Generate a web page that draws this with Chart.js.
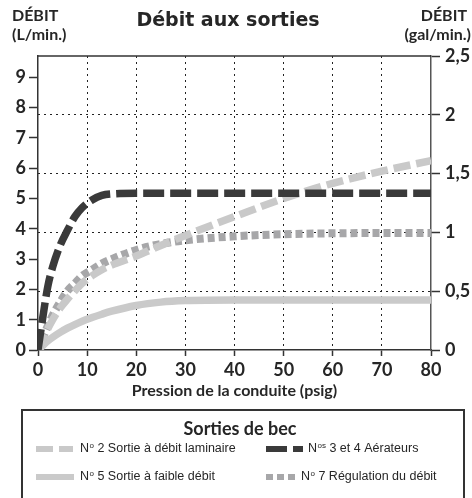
<!DOCTYPE html>
<html>
<head>
<meta charset="utf-8">
<script src="https://cdn.jsdelivr.net/npm/chart.js@4/dist/chart.umd.min.js"></script>
<style>
  html, body { margin: 0; padding: 0; background: #fff; }
  #wrap { width: 472px; height: 498px; position: relative; }
</style>
</head>
<body>
<div id="wrap"><canvas id="debitChart" width="472" height="498"></canvas></div>
<script>
// pression (psig) and flow values in L/min
const pressure = [0, 1, 2, 3, 4.5, 6, 7.5, 9, 11, 13, 15, 20, 25, 30, 40, 50, 60, 70, 80];
const aerateurs = [0, 1.1, 2.1, 2.75, 3.45, 3.95, 4.4, 4.7, 4.95, 5.1, 5.15, 5.17, 5.17, 5.17, 5.17, 5.17, 5.17, 5.17, 5.17];
const laminaire = [0, 0.35, 0.7, 1.0, 1.38, 1.68, 1.95, 2.2, 2.45, 2.65, 2.8, 3.1, 3.45, 3.78, 4.4, 5.0, 5.5, 5.9, 6.25];
const regulation = [0, 0.4, 0.8, 1.15, 1.58, 1.95, 2.2, 2.45, 2.65, 2.85, 3.0, 3.3, 3.5, 3.62, 3.75, 3.82, 3.85, 3.86, 3.86];
const faible = [0, 0.15, 0.3, 0.42, 0.58, 0.72, 0.84, 0.95, 1.07, 1.18, 1.28, 1.47, 1.58, 1.63, 1.65, 1.65, 1.65, 1.65, 1.65];

const xTicks = [0, 10, 20, 30, 40, 50, 60, 70, 80];
const litreTicks = [0, 1, 2, 3, 4, 5, 6, 7, 8, 9];
const gallonTicks = [0, 0.5, 1, 1.5, 2, 2.5];

const INK = "#262626";
const numFont = { family: "Lato, 'DejaVu Sans', sans-serif", size: 18, weight: "bold" };

function pts(values) {
  return pressure.map((p, i) => ({ x: p, y: values[i] }));
}

// legend entries: [superscript, rest of the label, dataset index, sample end x]
const legendRows = [
  [["o", " 2 Sortie à débit laminaire", 1, 73], ["os", " 3 et 4 Aérateurs", 0, 303]],
  [["o", " 5 Sortie à faible débit", 3, 74], ["o", " 7 Régulation du débit", 2, 297]]
];

const decorPlugin = {
  id: "decor",
  afterDraw(chart) {
    const ctx = chart.ctx;
    const area = chart.chartArea;
    ctx.save();

    // top frame line
    ctx.strokeStyle = "#333";
    ctx.lineWidth = 1.5;
    ctx.beginPath();
    ctx.moveTo(area.left, area.top);
    ctx.lineTo(area.right, area.top);
    ctx.stroke();

    // title + axis headers
    ctx.fillStyle = INK;
    ctx.textBaseline = "middle";
    ctx.font = "bold 19px 'DejaVu Sans', sans-serif";
    ctx.textAlign = "center";
    ctx.fillText("Débit aux sorties", 228, 21);

    ctx.font = "bold 16px Lato, sans-serif";
    ctx.textAlign = "left";
    ctx.fillText("DÉBIT", 12, 16);
    ctx.fillText("(L/min.)", 12, 35);
    ctx.textAlign = "right";
    ctx.fillText("DÉBIT", 467, 16);
    ctx.fillText("(gal/min.)", 471, 35);

    // legend box
    ctx.strokeStyle = "#333";
    ctx.lineWidth = 2;
    ctx.strokeRect(22, 410, 442, 100);
    ctx.textAlign = "center";
    ctx.font = "bold 18px Lato, sans-serif";
    ctx.fillText("Sorties de bec", 240, 429);

    const rowY = [449, 477];
    const colX = [[36, 80], [266, 308]];
    legendRows.forEach((row, r) => {
      row.forEach((item, c) => {
        const ds = chart.data.datasets[item[2]];
        const [x0, tx0] = colX[c];
        const x1 = item[3];
        const tx = c === 1 && r === 1 ? 301 : tx0;
        const y = rowY[r];
        ctx.save();
        ctx.strokeStyle = ds.borderColor;
        ctx.lineWidth = 6;
        ctx.lineCap = "butt";
        ctx.setLineDash(ds.borderDash || []);
        ctx.beginPath();
        ctx.moveTo(x0, y);
        ctx.lineTo(x1, y);
        ctx.stroke();
        ctx.restore();

        ctx.textAlign = "left";
        ctx.fillStyle = INK;
        ctx.font = "12.5px 'Liberation Sans', Arial, sans-serif";
        ctx.fillText("N", tx, y);
        let x = tx + ctx.measureText("N").width;
        ctx.font = "8px 'Liberation Sans', Arial, sans-serif";
        ctx.fillText(item[0], x + 0.5, y - 3);
        x += ctx.measureText(item[0]).width + 0.5;
        ctx.font = "12.5px 'Liberation Sans', Arial, sans-serif";
        ctx.fillText(item[1], x, y);
      });
    });
    ctx.restore();
  }
};

const lineBase = { pointRadius: 0, borderCapStyle: "butt", cubicInterpolationMode: "monotone", fill: false };

new Chart(document.getElementById("debitChart"), {
  type: "line",
  data: {
    datasets: [
      { ...lineBase, label: "Nos 3 et 4 Aérateurs", data: pts(aerateurs), borderColor: "#3a3a3a", borderWidth: 7.5, borderDash: [21, 6] },
      { ...lineBase, label: "No 2 Sortie à débit laminaire", data: pts(laminaire), borderColor: "#c9c9c9", borderWidth: 7.5, borderDash: [17, 6] },
      { ...lineBase, label: "No 7 Régulation du débit", data: pts(regulation), borderColor: "#a7a7a9", borderWidth: 8, borderDash: [7, 4] },
      { ...lineBase, label: "No 5 Sortie à faible débit", data: pts(faible), borderColor: "#cacaca", borderWidth: 7.5 }
    ]
  },
  options: {
    responsive: false,
    animation: false,
    layout: { padding: { top: 56, bottom: 98, left: 0, right: 0 } },
    plugins: { legend: { display: false }, tooltip: { enabled: false }, title: { display: false } },
    scales: {
      x: {
        type: "linear",
        min: 0,
        max: 80,
        afterBuildTicks: (s) => { s.ticks = xTicks.map((v) => ({ value: v })); },
        afterFit: (s) => { s.height = 50; },
        ticks: { font: numFont, color: INK, padding: 3 },
        grid: {
          color: (c) => (c.tick && (c.tick.value === 0 || c.tick.value === 80) ? "rgba(0,0,0,0)" : "#222"),
          lineWidth: 1,
          tickColor: "#333",
          tickLength: 6,
          tickWidth: 1.5
        },
        border: { display: true, color: "#333", width: 1.5, dash: [2, 4] },
        title: {
          display: true,
          text: "Pression de la conduite (psig)",
          font: { family: "Lato, sans-serif", size: 16, weight: "bold" },
          color: INK,
          padding: { top: 0, bottom: 0 }
        }
      },
      y: {
        position: "left",
        min: 0,
        max: 9.7,
        afterBuildTicks: (s) => { s.ticks = litreTicks.map((v) => ({ value: v })); },
        afterFit: (s) => { s.width = 38; },
        ticks: { font: numFont, color: INK, padding: 3 },
        grid: { drawOnChartArea: false, tickColor: "#333", tickLength: 9, tickWidth: 1.5 },
        border: { display: true, color: "#333", width: 1.5 }
      },
      y2: {
        position: "right",
        min: 0,
        max: 2.5,
        afterBuildTicks: (s) => { s.ticks = gallonTicks.map((v) => ({ value: v })); },
        afterFit: (s) => { s.width = 41; },
        ticks: {
          font: numFont,
          color: INK,
          padding: 5,
          callback: (v) => String(v).replace(".", ",")
        },
        grid: {
          color: (c) => (c.tick && (c.tick.value === 0 || c.tick.value === 2.5) ? "rgba(0,0,0,0)" : "#222"),
          lineWidth: 1,
          tickColor: "#333",
          tickLength: 9,
          tickWidth: 1.5
        },
        border: { display: true, color: "#555", width: 1.5, dash: [2, 4] }
      }
    }
  },
  plugins: [decorPlugin]
});
</script>
</body>
</html>
